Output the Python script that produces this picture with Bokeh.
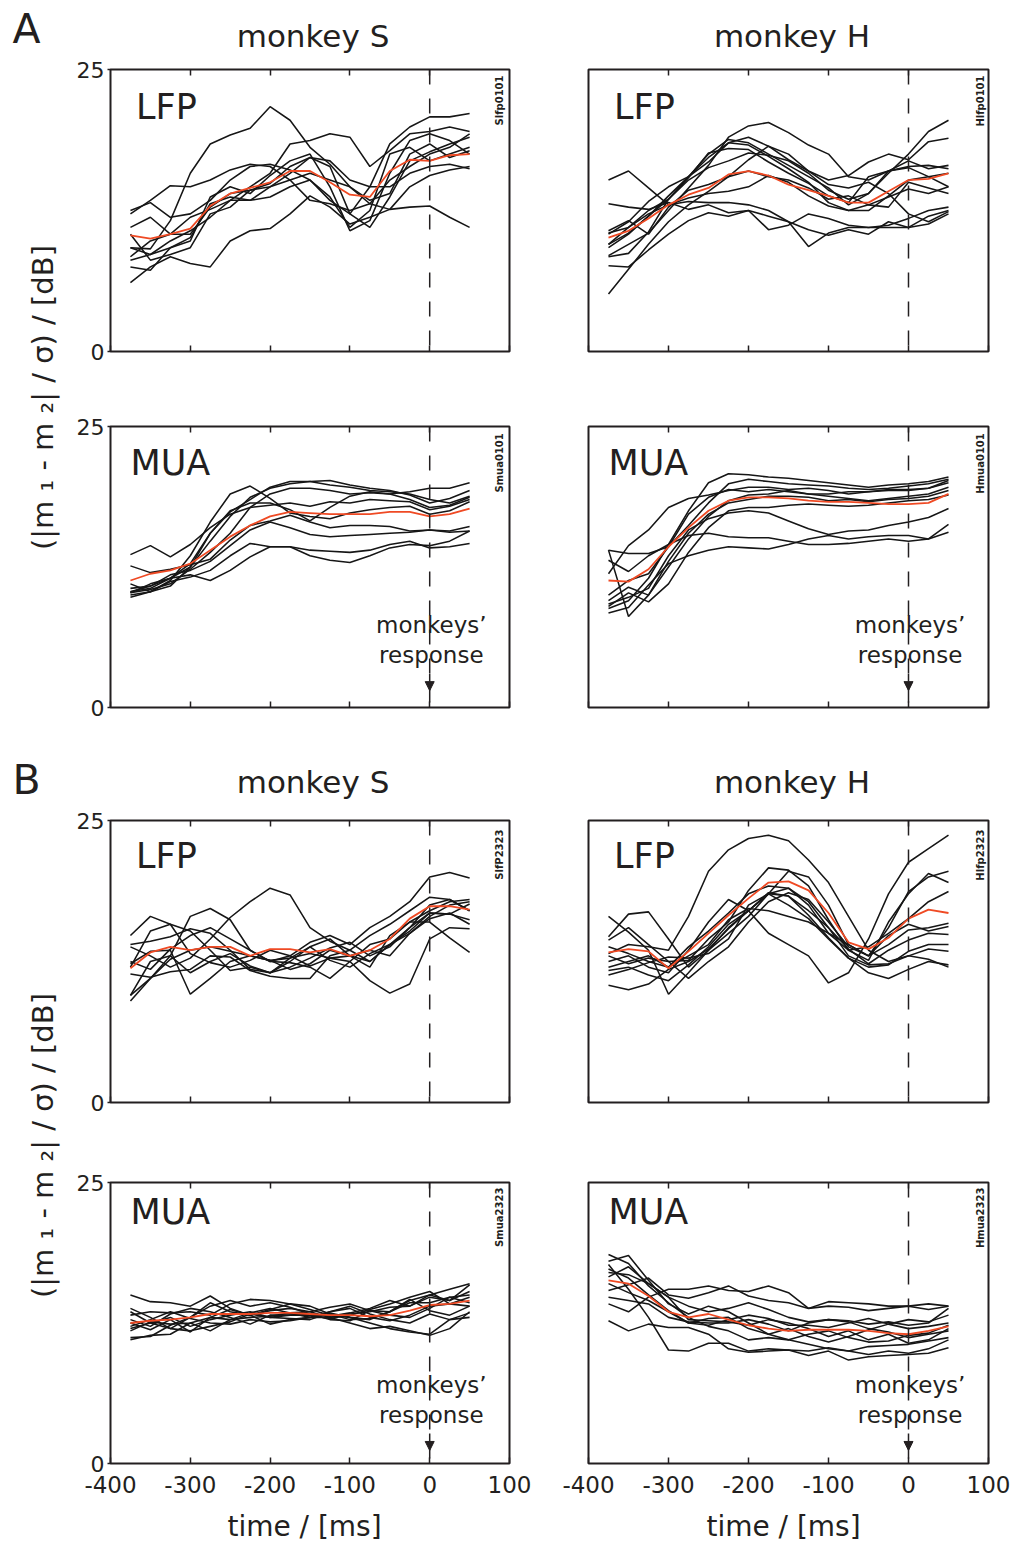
from math import pi

from bokeh.core.properties import value
from bokeh.embed import file_html
from bokeh.layouts import column, row
from bokeh.models import Arrow, FixedTicker, LinearAxis, NormalHead, Span
from bokeh.plotting import figure
from bokeh.resources import INLINE

FONT = "DejaVu Sans"
INK = "#231f20"
TRACE_COLOR = "#161616"
MEAN_COLOR = "#ef4a24"

# time axis shared by all traces (ms relative to the monkeys' response)
TIME = [-375, -350, -325, -300, -275, -250, -225, -200, -175, -150,
        -125, -100, -75, -50, -25, 0, 25, 50]

X_TICKS = [-400, -300, -200, -100, 0, 100]
X_TICK_LABELS = ["-400", "-300", "-200", "-100", "0", "100"]
Y_TICKS = [0, 25]

# ---------------- A: monkey S, LFP ----------------
A_S_LFP = [
    [9.2, 9.1, 11.6, 15.8, 18.4, 19.2, 19.8, 21.7, 20.5, 18.1, 16.6, 14.6, 13.1, 12.6, 12.8, 12.9, 11.9, 11.0],
    [12.5, 13.2, 11.9, 12.2, 13.4, 15.2, 16.4, 16.6, 16.1, 15.2, 13.4, 12.2, 14.6, 18.4, 19.9, 20.8, 20.8, 21.1],
    [8.4, 9.8, 10.4, 11.9, 12.6, 13.4, 14.6, 15.8, 18.4, 18.7, 19.3, 19.0, 16.4, 17.8, 19.3, 19.5, 19.9, 19.5],
    [6.1, 7.5, 8.4, 7.8, 7.5, 9.8, 10.7, 10.9, 12.2, 13.8, 12.8, 11.3, 11.9, 12.6, 14.6, 15.6, 16.1, 16.4],
    [10.4, 8.1, 8.6, 9.2, 12.2, 12.8, 14.3, 14.9, 16.4, 17.2, 16.4, 12.2, 11.0, 13.7, 16.9, 17.7, 18.4, 19.0],
    [9.2, 8.6, 9.2, 9.8, 13.7, 14.6, 14.0, 15.6, 16.9, 17.5, 14.6, 10.7, 11.6, 15.8, 18.7, 19.3, 18.7, 17.5],
    [12.2, 13.4, 14.7, 14.6, 15.2, 16.1, 16.6, 16.4, 15.2, 13.4, 13.1, 12.5, 13.1, 15.2, 16.4, 17.5, 18.1, 19.3],
    [8.1, 8.6, 9.8, 10.7, 11.9, 13.4, 13.4, 14.6, 15.8, 17.2, 16.9, 15.2, 14.6, 14.6, 15.8, 16.4, 16.6, 16.2],
    [7.5, 7.2, 9.2, 10.1, 13.1, 13.7, 13.4, 13.7, 14.6, 15.2, 13.7, 11.0, 12.5, 17.5, 18.1, 16.9, 17.5, 18.1],
    [11.0, 11.9, 10.4, 10.4, 12.8, 14.0, 14.3, 14.6, 15.2, 15.8, 15.2, 14.6, 13.4, 14.0, 17.5, 18.4, 17.2, 17.8],
]
A_S_LFP_MEAN = [10.3, 10.0, 10.4, 10.9, 12.9, 14.0, 14.5, 15.0, 16.0, 16.0, 15.0, 13.9, 13.7, 16.0, 17.0, 16.9, 17.4, 17.5]

# ---------------- A: monkey S, MUA ----------------
A_S_MUA = [
    [9.8, 10.3, 11.3, 13.5, 16.5, 19.0, 19.7, 18.6, 17.3, 17.0, 16.8, 17.3, 17.6, 17.8, 17.9, 17.2, 17.5, 18.3],
    [10.6, 10.8, 11.5, 12.8, 15.5, 17.4, 18.5, 19.6, 20.1, 20.1, 19.8, 19.6, 19.3, 19.2, 19.0, 18.5, 18.2, 18.8],
    [11.0, 10.3, 10.8, 12.5, 14.8, 17.0, 18.7, 19.5, 19.9, 20.1, 20.2, 19.8, 19.5, 19.3, 18.9, 18.2, 18.6, 19.3],
    [10.2, 10.5, 11.0, 12.3, 13.8, 15.5, 17.8, 19.0, 19.5, 19.5, 19.3, 19.0, 19.1, 19.0, 19.2, 19.5, 19.5, 20.0],
    [13.6, 14.4, 13.4, 14.5, 16.0, 17.2, 17.8, 18.0, 18.2, 17.9, 18.3, 18.2, 18.5, 18.4, 18.3, 17.6, 17.9, 18.5],
    [12.6, 12.0, 12.3, 12.7, 13.2, 14.9, 16.2, 16.6, 17.1, 16.5, 16.0, 16.2, 16.2, 16.1, 15.7, 15.8, 15.7, 16.1],
    [10.3, 10.8, 11.8, 12.2, 13.0, 14.4, 15.8, 16.5, 16.0, 15.4, 15.2, 15.3, 15.4, 15.5, 15.6, 15.8, 15.6, 15.7],
    [10.3, 10.6, 11.5, 11.8, 11.3, 12.2, 13.4, 14.3, 14.3, 14.0, 13.9, 13.8, 14.0, 14.5, 14.8, 14.2, 14.3, 14.6],
    [10.0, 10.3, 11.2, 11.6, 12.2, 13.5, 14.6, 14.3, 14.3, 13.5, 13.1, 12.9, 13.5, 14.2, 14.5, 14.4, 14.8, 15.7],
    [10.2, 11.0, 11.5, 12.5, 15.5, 17.5, 18.2, 18.2, 17.6, 16.6, 17.8, 18.8, 19.2, 19.0, 18.5, 17.8, 18.0, 18.7],
]
A_S_MUA_MEAN = [11.3, 11.9, 12.2, 12.8, 14.0, 15.2, 16.2, 17.0, 17.4, 17.3, 17.2, 17.2, 17.2, 17.4, 17.4, 17.0, 17.2, 17.7]

# ---------------- A: monkey H, LFP ----------------
A_H_LFP = [
    [8.5, 9.5, 10.5, 12.5, 14.5, 16.5, 19.0, 20.0, 20.3, 19.4, 18.3, 17.5, 15.5, 15.2, 16.0, 16.4, 16.5, 16.2],
    [10.5, 11.0, 12.5, 13.5, 15.5, 17.5, 18.8, 18.5, 17.5, 16.5, 15.5, 14.5, 13.0, 14.0, 15.8, 17.5, 19.5, 20.5],
    [9.5, 10.5, 12.0, 13.8, 15.5, 17.2, 18.5, 19.0, 18.2, 17.0, 16.0, 15.2, 15.6, 16.8, 17.5, 17.0, 18.6, 18.9],
    [15.2, 16.0, 14.5, 13.0, 13.3, 13.2, 13.2, 13.0, 12.5, 11.5, 9.3, 10.5, 11.0, 11.0, 11.2, 11.8, 12.5, 12.8],
    [5.1, 7.3, 9.5, 11.5, 13.0, 14.2, 15.5, 17.0, 18.2, 17.5, 16.0, 14.8, 14.5, 15.0, 14.0, 12.2, 11.5, 12.4],
    [13.1, 12.8, 12.6, 13.2, 12.6, 13.0, 12.3, 12.5, 12.0, 11.5, 10.8, 10.3, 10.8, 10.4, 11.5, 11.0, 11.3, 12.2],
    [7.6, 7.5, 9.0, 10.4, 11.6, 12.3, 12.0, 12.5, 10.8, 11.2, 12.2, 11.8, 11.2, 11.0, 11.0, 11.0, 12.0, 12.5],
    [9.2, 10.4, 12.0, 13.5, 15.4, 17.6, 18.0, 17.9, 16.8, 15.8, 14.9, 13.8, 13.2, 15.5, 16.0, 16.3, 15.5, 15.8],
    [10.4, 11.5, 13.3, 14.6, 15.5, 16.8, 18.5, 18.3, 17.3, 16.2, 15.0, 13.2, 12.5, 12.5, 13.8, 15.2, 15.5, 14.6],
    [8.4, 8.7, 10.6, 13.5, 15.2, 16.3, 16.9, 17.6, 17.4, 16.9, 15.8, 14.3, 13.5, 14.0, 16.0, 16.9, 16.2, 16.5],
    [9.5, 11.0, 12.2, 13.0, 13.6, 14.0, 14.2, 14.6, 15.6, 15.0, 13.8, 12.9, 12.5, 13.0, 13.7, 14.4, 14.0, 14.6],
    [10.7, 11.6, 10.4, 12.8, 14.3, 14.8, 15.5, 16.0, 15.5, 15.2, 14.5, 13.5, 13.8, 13.0, 12.8, 15.0, 14.5, 14.0],
]
A_H_LFP_MEAN = [10.1, 10.7, 11.8, 13.0, 13.9, 14.5, 15.7, 16.0, 15.6, 14.8, 14.3, 13.8, 13.2, 13.2, 14.2, 15.2, 15.3, 15.8]

# ---------------- A: monkey H, MUA ----------------
A_H_MUA = [
    [8.8, 9.5, 11.5, 14.5, 17.5, 20.0, 20.8, 20.7, 20.5, 20.4, 20.2, 20.0, 19.8, 19.6, 19.8, 19.9, 20.1, 20.5],
    [14.0, 13.7, 13.7, 14.3, 16.2, 18.2, 19.9, 20.3, 20.1, 19.9, 19.8, 19.7, 19.5, 19.4, 19.5, 19.7, 19.9, 20.3],
    [11.9, 14.4, 15.8, 17.8, 18.6, 18.9, 19.3, 19.6, 19.6, 19.4, 19.5, 19.3, 19.0, 19.2, 19.4, 19.4, 19.5, 20.0],
    [9.2, 9.8, 10.6, 13.5, 15.8, 16.8, 17.3, 17.5, 17.3, 16.6, 15.9, 15.4, 15.7, 15.8, 16.2, 16.5, 16.9, 17.7],
    [13.1, 12.1, 13.5, 14.5, 15.3, 15.5, 15.2, 15.1, 15.1, 14.8, 14.5, 14.5, 14.6, 14.8, 15.0, 14.8, 15.0, 16.3],
    [8.4, 8.9, 10.9, 12.8, 13.5, 14.0, 14.3, 14.2, 14.1, 14.5, 15.0, 15.3, 15.0, 15.2, 15.3, 15.3, 15.0, 15.6],
    [10.0, 11.3, 11.9, 14.3, 17.2, 18.7, 19.4, 19.2, 19.4, 19.2, 19.0, 19.0, 19.2, 19.2, 19.3, 19.3, 19.5, 20.2],
    [14.0, 8.1, 10.0, 13.0, 15.5, 17.2, 18.2, 18.5, 18.8, 18.8, 18.7, 18.4, 18.5, 18.3, 18.5, 18.6, 18.8, 19.3],
    [9.5, 10.7, 10.0, 12.5, 15.0, 17.0, 18.4, 18.9, 19.0, 19.3, 19.0, 18.8, 18.6, 18.4, 18.6, 18.8, 19.0, 19.6],
    [9.0, 10.2, 9.4, 11.0, 13.8, 16.0, 17.5, 17.8, 17.8, 18.0, 18.1, 18.0, 17.9, 18.0, 18.2, 18.4, 18.5, 18.9],
]
A_H_MUA_MEAN = [11.3, 11.2, 12.3, 14.3, 16.0, 17.5, 18.4, 18.7, 18.7, 18.6, 18.4, 18.3, 18.3, 18.2, 18.1, 18.1, 18.2, 19.0]

# ---------------- B: monkey S, LFP ----------------
B_S_LFP = [
    [13.8, 13.0, 12.0, 12.8, 14.5, 16.4, 17.8, 19.0, 18.4, 15.5, 14.3, 13.5, 14.8, 15.8, 17.0, 18.2, 18.0, 17.0],
    [12.5, 11.8, 13.6, 14.8, 15.5, 14.5, 13.5, 12.5, 13.0, 14.2, 14.8, 14.0, 15.5, 16.5, 17.8, 20.0, 20.4, 19.9],
    [9.0, 11.0, 12.7, 13.5, 13.8, 13.4, 13.0, 12.6, 12.8, 13.2, 12.8, 12.5, 10.8, 9.7, 10.5, 14.5, 15.5, 15.4],
    [9.5, 12.5, 13.0, 11.5, 12.5, 13.2, 12.1, 11.5, 12.5, 13.8, 14.5, 13.0, 12.0, 14.8, 16.0, 16.0, 14.6, 13.3],
    [14.8, 16.5, 15.8, 13.2, 12.4, 12.0, 12.6, 13.5, 13.0, 12.1, 12.8, 13.0, 13.5, 13.0, 15.0, 16.5, 17.5, 17.8],
    [9.5, 11.0, 13.0, 16.5, 17.2, 16.2, 13.5, 12.5, 12.4, 12.0, 11.0, 12.5, 14.0, 14.5, 16.0, 17.0, 17.8, 18.0],
    [14.0, 14.3, 14.7, 15.4, 15.0, 13.5, 11.8, 11.5, 12.0, 12.8, 13.7, 14.2, 13.0, 13.8, 15.5, 17.5, 18.0, 17.0],
    [12.3, 13.4, 13.5, 9.6, 11.0, 12.5, 13.0, 12.6, 11.8, 12.3, 13.5, 13.0, 12.5, 14.0, 15.2, 16.8, 16.7, 16.2],
    [11.4, 11.1, 11.6, 11.8, 13.0, 12.9, 11.7, 11.2, 11.0, 11.0, 13.0, 13.5, 12.5, 14.0, 15.5, 16.8, 16.7, 17.6],
    [12.0, 15.2, 15.8, 15.2, 13.5, 11.7, 12.0, 11.5, 12.8, 13.8, 12.6, 12.0, 13.2, 14.0, 15.0, 16.3, 16.8, 15.8],
]
B_S_LFP_MEAN = [11.9, 13.3, 13.8, 13.5, 13.8, 13.8, 13.0, 13.6, 13.6, 13.3, 13.6, 13.0, 13.5, 14.5, 16.3, 17.4, 17.4, 17.1]

# ---------------- B: monkey H, LFP ----------------
B_H_LFP = [
    [13.2, 14.0, 13.8, 13.5, 16.5, 20.5, 22.4, 23.4, 23.7, 23.2, 21.5, 19.5, 16.5, 13.5, 12.5, 13.0, 12.7, 12.0],
    [12.5, 13.0, 12.0, 11.5, 13.5, 16.0, 18.0, 17.0, 15.0, 14.0, 13.0, 10.6, 11.5, 14.5, 18.5, 21.3, 22.5, 23.7],
    [16.5, 15.1, 13.5, 9.6, 11.5, 13.5, 15.5, 17.0, 18.5, 19.0, 17.8, 15.5, 13.0, 12.2, 12.3, 13.0, 13.6, 13.4],
    [10.4, 10.0, 10.5, 11.8, 12.5, 13.6, 15.4, 17.0, 18.6, 18.3, 16.6, 14.6, 12.8, 12.0, 12.2, 13.4, 14.0, 14.0],
    [14.7, 16.7, 16.9, 14.5, 12.0, 13.5, 15.0, 16.5, 18.5, 20.5, 20.0, 17.5, 14.0, 13.0, 15.5, 18.7, 20.0, 20.5],
    [14.4, 15.5, 14.0, 12.5, 12.6, 14.5, 16.0, 18.8, 20.8, 20.6, 19.2, 16.2, 13.5, 12.6, 16.0, 18.5, 20.3, 19.5],
    [12.0, 12.5, 13.0, 12.0, 13.8, 15.2, 16.8, 18.5, 19.2, 19.0, 17.5, 15.0, 13.5, 13.8, 15.0, 16.3, 17.8, 18.7],
    [13.0, 12.3, 12.8, 12.5, 11.0, 12.5, 13.8, 16.0, 17.8, 18.6, 18.0, 16.0, 13.8, 13.0, 14.0, 15.3, 15.5, 15.9],
    [11.3, 11.8, 12.4, 12.9, 12.8, 13.2, 14.5, 17.5, 18.5, 18.3, 17.0, 15.5, 13.6, 12.3, 13.5, 14.4, 15.0, 14.9],
    [11.7, 12.0, 11.3, 10.8, 12.2, 13.8, 15.8, 17.0, 18.5, 17.5, 16.3, 14.5, 12.8, 11.5, 11.0, 11.8, 12.5, 12.2],
    [13.8, 13.2, 12.5, 12.0, 13.0, 14.0, 16.2, 17.2, 17.0, 16.5, 16.0, 15.0, 14.0, 13.0, 14.8, 15.8, 15.2, 15.6],
]
B_H_LFP_MEAN = [13.3, 13.6, 13.4, 11.9, 13.4, 15.0, 16.6, 18.1, 19.5, 19.6, 18.8, 16.8, 14.2, 13.6, 14.6, 16.3, 17.1, 16.8]

# ---------------- B: monkey S, MUA ----------------
B_S_MUA = [
    [15.0, 14.4, 14.3, 14.0, 14.9, 13.8, 13.2, 13.6, 13.8, 13.5, 13.0, 13.3, 13.5, 13.9, 14.0, 14.8, 14.5, 15.3],
    [11.0, 11.4, 11.5, 12.5, 11.8, 12.8, 13.4, 13.8, 13.4, 13.0, 13.5, 14.0, 13.3, 12.8, 12.5, 13.3, 12.8, 13.4],
    [12.5, 11.9, 12.8, 11.7, 13.0, 13.7, 13.2, 12.4, 12.8, 13.0, 13.0, 12.5, 12.0, 12.2, 11.8, 11.4, 12.0, 13.5],
    [13.8, 13.0, 12.0, 13.0, 14.0, 14.5, 14.0, 14.3, 13.9, 13.3, 13.1, 13.4, 13.8, 14.5, 14.0, 15.0, 14.5, 15.9],
    [11.2, 11.3, 12.3, 13.0, 14.3, 13.5, 13.2, 13.7, 14.2, 14.0, 13.3, 12.8, 12.9, 13.5, 14.3, 14.3, 14.8, 15.0],
    [12.2, 12.8, 13.5, 12.9, 12.5, 12.4, 12.8, 12.6, 12.7, 13.0, 13.5, 13.8, 13.0, 12.7, 13.2, 14.0, 14.2, 14.0],
    [13.5, 12.5, 12.0, 11.8, 12.2, 12.6, 13.3, 13.0, 13.2, 13.3, 12.8, 12.7, 13.6, 13.5, 14.6, 13.6, 13.2, 14.0],
    [13.2, 13.5, 13.4, 13.5, 13.2, 14.2, 14.6, 14.5, 14.2, 13.7, 13.2, 13.0, 12.8, 13.5, 14.5, 15.0, 15.5, 16.0],
    [11.8, 12.6, 12.4, 12.5, 13.0, 12.8, 13.0, 13.1, 13.4, 13.5, 13.9, 14.2, 13.6, 13.2, 13.0, 13.8, 14.8, 14.3],
    [12.8, 12.2, 13.3, 13.8, 13.5, 13.0, 12.4, 13.2, 13.2, 13.2, 12.9, 13.2, 13.7, 14.2, 14.8, 15.3, 14.2, 14.8],
    [12.0, 12.5, 13.0, 12.2, 12.8, 13.2, 13.5, 13.0, 12.9, 12.8, 13.4, 13.0, 12.5, 12.0, 11.7, 11.5, 12.8, 13.0],
]
B_S_MUA_MEAN = [12.5, 12.7, 12.8, 13.0, 13.3, 13.3, 13.3, 13.4, 13.4, 13.3, 13.2, 13.2, 13.1, 13.2, 13.6, 14.1, 14.2, 14.5]

# ---------------- B: monkey H, MUA ----------------
B_H_MUA = [
    [18.6, 17.8, 15.8, 14.3, 13.0, 12.2, 11.8, 11.0, 11.2, 11.0, 10.6, 10.2, 10.0, 9.7, 10.0, 9.8, 10.2, 11.0],
    [18.0, 18.5, 16.3, 14.2, 13.3, 14.0, 13.5, 12.5, 11.5, 11.0, 11.5, 11.8, 11.2, 10.8, 10.9, 11.4, 11.6, 12.3],
    [15.4, 15.9, 16.5, 15.0, 14.7, 15.2, 15.8, 14.9, 14.5, 14.3, 13.8, 14.0, 13.9, 13.6, 13.8, 14.0, 13.7, 14.0],
    [14.2, 13.5, 14.8, 15.5, 15.5, 15.8, 15.4, 15.3, 15.8, 15.2, 13.8, 14.4, 14.3, 14.2, 14.0, 14.0, 14.2, 14.0],
    [17.7, 15.5, 13.0, 10.1, 10.0, 10.7, 10.7, 10.0, 10.2, 10.1, 10.0, 10.3, 10.0, 10.4, 10.5, 10.6, 10.9, 11.2],
    [12.7, 11.8, 12.4, 12.1, 12.1, 11.5, 10.2, 9.9, 10.0, 10.1, 9.6, 10.0, 9.2, 9.5, 9.6, 9.7, 9.8, 10.3],
    [17.0, 16.8, 16.0, 14.8, 12.8, 12.7, 12.6, 12.3, 12.8, 12.5, 12.0, 11.3, 11.8, 11.0, 11.5, 10.7, 11.0, 12.0],
    [16.0, 15.2, 14.5, 13.5, 12.5, 12.3, 12.8, 13.2, 12.9, 12.3, 12.3, 12.1, 12.5, 12.9, 12.4, 12.0, 12.2, 12.5],
    [14.8, 14.5, 14.2, 13.0, 12.6, 12.5, 12.5, 12.8, 12.4, 11.8, 12.5, 12.8, 12.6, 12.0, 11.7, 11.2, 11.5, 11.8],
    [17.3, 16.5, 15.0, 13.6, 12.5, 12.9, 13.0, 12.0, 11.5, 12.0, 11.3, 10.8, 11.3, 11.9, 12.4, 12.8, 12.6, 13.2],
    [16.6, 17.5, 16.0, 14.8, 14.0, 13.5, 13.8, 14.3, 13.7, 13.0, 12.6, 12.8, 12.7, 12.4, 12.6, 12.3, 12.5, 13.8],
]
B_H_MUA_MEAN = [16.3, 16.0, 14.9, 13.5, 13.0, 13.3, 12.8, 12.3, 12.0, 11.8, 11.9, 11.9, 11.9, 11.8, 11.6, 11.5, 11.8, 12.2]

# ---------------- layout geometry (pixels) ----------------
LEFT_STRIP = 70                  # strip holding panel letters and the y-axis title
BODY_W = 1013 - LEFT_STRIP       # width right of the strip
COL_WIDTH = [478, 465]
COL_BORDER = [(40, 39), (40, 25)]
ROW_BORDER = [(14, 16), (59, 16), (14, 16), (64, 45)]
ROW_FRAME = [282, 281, 282, 281]
HEADER_H = [55, 83]
FOOTER_H = 35

# text anchors per row, data units (vertical centres of the glyphs)
KIND_Y = [21.68, 21.73, 21.87, 22.4]
TAG_Y = [24.47, 24.4, 24.2, 24.55]
RESPONSE_Y = {1: (7.33, 4.64, 3.0, 1.5), 3: (6.95, 4.28, 2.67, 1.16)}


def make_panel(col, r, traces, mean, kind, tag):
    left = col == 0
    top_b, bot_b = ROW_BORDER[r]
    lb, rb = COL_BORDER[col]
    p = figure(width=COL_WIDTH[col], height=top_b + ROW_FRAME[r] + bot_b,
               x_range=(-400, 100), y_range=(0, 25),
               y_axis_location="left" if left else None,
               output_backend="svg", toolbar_location=None,
               min_border_left=lb, min_border_right=rb,
               min_border_top=top_b, min_border_bottom=bot_b)
    p.grid.visible = False
    p.outline_line_color = INK
    p.outline_line_width = 2
    p.background_fill_color = "white"
    p.border_fill_color = "white"

    xa = p.xaxis[0]
    xa.ticker = FixedTicker(ticks=X_TICKS)
    xa.axis_line_color = None
    xa.major_tick_in = 6
    xa.major_tick_out = 0
    xa.major_tick_line_color = INK
    xa.major_tick_line_width = 1.5
    xa.minor_tick_line_color = None
    if r == 3:
        xa.major_label_overrides = dict(zip(X_TICKS, X_TICK_LABELS))
        xa.major_label_text_font = FONT
        xa.major_label_text_font_size = "23px"
        xa.major_label_text_color = INK
        xa.major_label_standoff = 12
    else:
        xa.major_label_text_font_size = "1px"
        xa.major_label_text_alpha = 0
        xa.major_label_standoff = 0

    top_axis = LinearAxis(ticker=FixedTicker(ticks=[-300, -200, -100, 0]),
                          axis_line_color=None, major_tick_in=6, major_tick_out=0,
                          major_tick_line_color=INK, major_tick_line_width=1.5,
                          minor_tick_line_color=None,
                          major_label_text_font_size="1px",
                          major_label_text_alpha=0, major_label_standoff=0)
    p.add_layout(top_axis, "above")

    if left:
        ya = p.yaxis[0]
        ya.ticker = FixedTicker(ticks=Y_TICKS)
        ya.axis_line_color = None
        ya.major_tick_in = 0
        ya.major_tick_out = 3
        ya.major_tick_line_color = INK
        ya.major_tick_line_width = 1.5
        ya.minor_tick_line_color = None
        ya.major_label_text_font = FONT
        ya.major_label_text_font_size = "22px"
        ya.major_label_text_color = INK
        ya.major_label_standoff = 3

    # response time marker
    p.add_layout(Span(location=0, dimension="height", line_color=INK,
                      line_width=1.5, line_dash="15 14"))

    for tr in traces:
        p.line(TIME, tr, line_color=TRACE_COLOR, line_width=1.55)
    p.line(TIME, mean, line_color=MEAN_COLOR, line_width=1.8)

    p.text(x=[-368 if kind == "LFP" else -375], y=[KIND_Y[r]], text=[kind],
           text_font=value(FONT), text_font_size="35px", text_color=INK,
           text_baseline="middle")

    p.text(x=[88 if left else 90], y=[TAG_Y[r]], text=[tag], angle=pi / 2,
           text_align="right", text_baseline="middle",
           text_font=value(FONT), text_font_style="bold",
           text_font_size="10px", text_color=INK)

    if r in RESPONSE_Y:
        y1, y2, ys, ye = RESPONSE_Y[r]
        p.text(x=[2, 2], y=[y1, y2], text=["monkeys\u2019", "response"],
               text_font=value(FONT), text_font_size="23px", text_color=INK,
               text_align="center", text_baseline="middle")
        p.add_layout(Arrow(end=NormalHead(size=9, fill_color=INK, line_color=INK,
                                          line_width=1),
                           x_start=0, y_start=ys, x_end=0, y_end=ye,
                           line_color=INK, line_width=1.5))
    return p


def make_text_strip(width, height):
    s = figure(width=width, height=height, x_range=(0, width), y_range=(0, height),
               x_axis_location=None, y_axis_location=None,
               output_backend="svg", toolbar_location=None, min_border=0)
    s.grid.visible = False
    s.outline_line_color = None
    s.border_fill_color = "white"
    s.background_fill_color = "white"
    return s


def make_header(height, y):
    h = make_text_strip(BODY_W, height)
    h.text(x=[242.5, 721.5], y=[y, y], text=["monkey S", "monkey H"],
           text_font=value(FONT), text_font_size="31px", text_color=INK,
           text_align="center", text_baseline="middle")
    return h


def make_footer():
    f = make_text_strip(BODY_W, FOOTER_H)
    f.text(x=[234, 713], y=[17.2, 17.2], text=["time / [ms]", "time / [ms]"],
           text_font=value(FONT), text_font_size="28px", text_color=INK,
           text_align="center", text_baseline="middle")
    return f


def make_side(height, letter, letter_y, label_y):
    s = make_text_strip(LEFT_STRIP, height)
    s.text(x=[12], y=[letter_y], text=[letter], text_font=value(FONT),
           text_font_size="41px", text_color=INK, text_baseline="middle")
    s.text(x=[42], y=[label_y], text=["(|m \u2081 - m \u2082| / \u03c3) / [dB]"],
           angle=pi / 2, text_align="center", text_baseline="middle",
           text_font=value(FONT), text_font_size="29px", text_color=INK)
    return s


def row_h(i):
    return ROW_BORDER[i][0] + ROW_FRAME[i] + ROW_BORDER[i][1]


a_s_lfp = make_panel(0, 0, A_S_LFP, A_S_LFP_MEAN, "LFP", "Slfp0101")
a_h_lfp = make_panel(1, 0, A_H_LFP, A_H_LFP_MEAN, "LFP", "Hlfp0101")
a_s_mua = make_panel(0, 1, A_S_MUA, A_S_MUA_MEAN, "MUA", "Smua0101")
a_h_mua = make_panel(1, 1, A_H_MUA, A_H_MUA_MEAN, "MUA", "Hmua0101")
b_s_lfp = make_panel(0, 2, B_S_LFP, B_S_LFP_MEAN, "LFP", "SlfP2323")
b_h_lfp = make_panel(1, 2, B_H_LFP, B_H_LFP_MEAN, "LFP", "Hlfp2323")
b_s_mua = make_panel(0, 3, B_S_MUA, B_S_MUA_MEAN, "MUA", "Smua2323")
b_h_mua = make_panel(1, 3, B_H_MUA, B_H_MUA_MEAN, "MUA", "Hmua2323")

h_a = HEADER_H[0] + row_h(0) + row_h(1)
h_b = HEADER_H[1] + row_h(2) + row_h(3) + FOOTER_H

side_a = make_side(h_a, "A", h_a - 28, h_a - 397)
side_b = make_side(h_b, "B", h_b - (779 - h_a), h_b - (1145 - h_a))

page = column(
    row(side_a, column(make_header(HEADER_H[0], 19.6),
                       row(a_s_lfp, a_h_lfp), row(a_s_mua, a_h_mua))),
    row(side_b, column(make_header(HEADER_H[1], 24.6),
                       row(b_s_lfp, b_h_lfp), row(b_s_mua, b_h_mua),
                       make_footer())),
)

open("out.html", "w").write(file_html(page, INLINE))
